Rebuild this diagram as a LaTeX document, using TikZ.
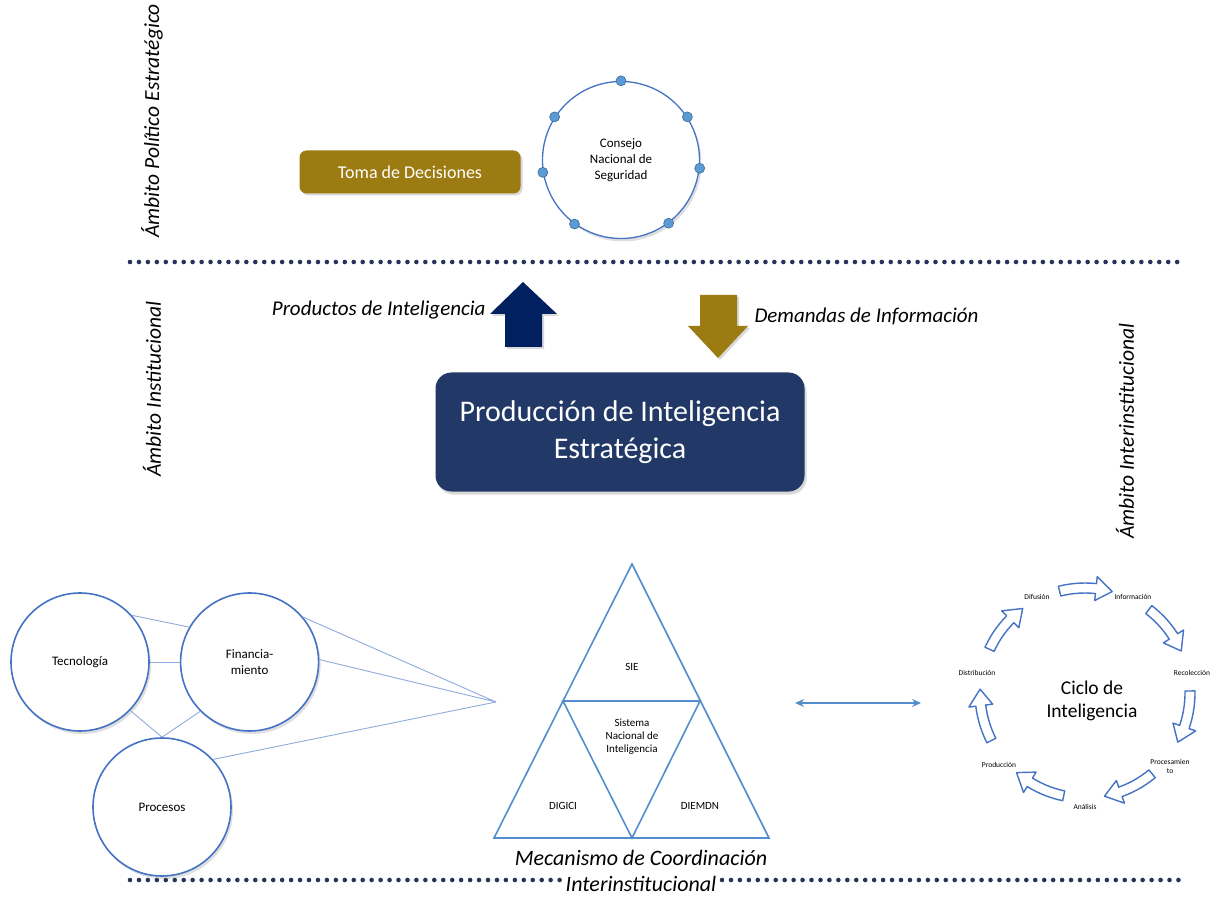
\documentclass[tikz,border=0pt]{standalone}
\usepackage{fontspec}
\setmainfont{Carlito}
\usepackage{xcolor}
\usetikzlibrary{arrows.meta}
\usetikzlibrary{positioning}
\usetikzlibrary{shadows}

\definecolor{navybox}{RGB}{34,56,102}
\definecolor{navyarrow}{RGB}{0,32,96}
\definecolor{gold}{RGB}{156,123,18}
\definecolor{ringblue}{RGB}{68,114,196}
\definecolor{triblue}{RGB}{84,141,204}
\definecolor{thinblue}{RGB}{143,170,220}
\definecolor{dotfill}{RGB}{91,155,213}
\definecolor{dotline}{RGB}{38,52,92}

% one block arrow of the cycle, #1 = middle angle
\newcommand{\cycarrow}[1]{%
  \pgfmathsetmacro{\aone}{#1+14}%
  \pgfmathsetmacro{\atwo}{#1-6}%
  \pgfmathsetmacro{\atip}{#1-15}%
  \draw[cyc] plot[domain=\aone:\atwo, samples=8] ({1085+110*cos(\x)},{693-110*sin(\x)})
    -- ({1085+117*cos(\atwo)},{693-117*sin(\atwo)})
    -- ({1085+105*cos(\atip)},{693-105*sin(\atip)})
    -- ({1085+93*cos(\atwo)},{693-93*sin(\atwo)})
    -- plot[domain=\atwo:\aone, samples=8] ({1085+100*cos(\x)},{693-100*sin(\x)})
    -- cycle;}

\begin{document}
\begin{tikzpicture}[x=1pt, y=-1pt]

\tikzstyle{every node} = [font=\fontsize{13}{16}\selectfont, align=center]
\tikzstyle{ring} = [circle, draw=ringblue, line width=1.6pt, fill=white, minimum size=138pt, drop shadow={opacity=0.25, shadow xshift=2pt, shadow yshift=-3pt}]
\tikzstyle{side} = [rotate=90, font=\fontsize{21.5}{25}\selectfont\itshape]
\tikzstyle{caption} = [font=\fontsize{21}{25}\selectfont\itshape]
\tikzstyle{tie} = [thinblue, line width=0.9pt]
\tikzstyle{tri} = [triblue, line width=1.6pt]
\tikzstyle{cyc} = [ringblue, fill=white, line width=1.4pt, line join=round]
\tikzstyle{phase} = [font=\fontsize{7.5}{9}\selectfont]
\tikzstyle{tick} = [fill=dotfill, draw=dotfill!70!black, line width=0.6pt]
\tikzstyle{rule} = [dotline, line width=4.6pt, line cap=round, dash pattern=on 0pt off 8.95pt]

\useasboundingbox (0,0) rectangle (1211,909);

\node[side] (a1) at (152,121) {Ámbito Político Estratégico};
\node[side] (a2) at (152,389) {Ámbito Institucional};
\node[side] (a3) at (1125,431) {Ámbito Interinstitucional};

\draw[rule] (130,262) -- (1183,262);
\draw[rule] (130,880) -- (560,880);
\draw[rule] (722,880) -- (1183,880);

\node[fill=gold, text=white, rounded corners=7pt, minimum width=221pt, minimum height=43pt, font=\fontsize{18}{22}\selectfont, drop shadow={opacity=0.3, shadow xshift=2pt, shadow yshift=-2pt}] (1) at (410,172) {Toma de Decisiones};
\node[ring, minimum size=157pt, line width=1.3pt] (2) at (621,160) {Consejo\\Nacional de\\Seguridad};
\foreach \a in {90,147,33,-6,189,234,-53}
  \filldraw[tick] (2.\a) circle[radius=5pt];

\fill[navyarrow, drop shadow={opacity=0.3, shadow xshift=2pt, shadow yshift=-2pt}] (523,282) -- (557,314) -- (542,314) -- (542,347) -- (505,347) -- (505,314) -- (490,314) -- cycle;
\fill[gold, drop shadow={opacity=0.3, shadow xshift=2pt, shadow yshift=-2pt}] (700,295) -- (737,295) -- (737,326) -- (748,326) -- (718,358) -- (688,326) -- (700,326) -- cycle;
\node[caption, anchor=east] (3) at (489,310) {Productos de Inteligencia};
\node[caption, anchor=west] (4) at (751,316) {Demandas de Información};

\node[fill=navybox, text=white, rounded corners=16pt, minimum width=369pt, minimum height=119pt, font=\fontsize{30}{37}\selectfont, drop shadow={opacity=0.3, shadow xshift=2pt, shadow yshift=-3pt}] (5) at (620,432) {Producción de Inteligencia\\Estratégica};

\node[ring] (6) at (80,662) {Tecnología};
\node[ring, right=30pt of 6] (7) {Financia-\\miento};
\node[ring] (8) at (162,807) {Procesos};

\coordinate (apex) at (496,702);
\draw[tie] (6.42) -- (7.150);
\draw[tie] (6.east) -- (7.west);
\draw[tie] (6.-44) -- (8.north);
\draw[tie] (7.-135) -- (8.north);
\draw[tie] (7.40) -- (apex) -- (7.2);
\draw[tie] (8.43) -- (apex);

\coordinate (t1) at (632,564);
\coordinate (t2) at (494,838);
\coordinate (t3) at (769,838);
\coordinate (m1) at (563,701);
\coordinate (m2) at (700,701);
\coordinate (m3) at (632,838);
\draw[tri] (t1) -- (t2) -- (t3) -- cycle;
\draw[tri] (m1) -- (m2) -- (m3) -- cycle;
\node[font=\fontsize{11}{13}\selectfont] (9) at (632,667) {SIE};
\node[font=\fontsize{11}{13}\selectfont] (10) at (632,737) {Sistema\\Nacional de\\Inteligencia};
\node[font=\fontsize{11}{13}\selectfont] (11) at (563,806) {DIGICI};
\node[font=\fontsize{11}{13}\selectfont] (12) at (700,806) {DIEMDN};
\node[caption, font=\fontsize{22}{26}\selectfont\itshape] (13) at (641,871) {Mecanismo de Coordinación\\Interinstitucional};

\coordinate (l1) at (795,703);
\coordinate (l2) at (921,703);
\draw[triblue, line width=1.3pt, {Stealth[length=9pt,width=8pt]}-{Stealth[length=9pt,width=8pt]}] (l1) -- (l2);

\node[font=\fontsize{19.5}{23}\selectfont] (20) at (1092,701) {Ciclo de\\Inteligencia};
\node[phase] (21) at (1037,597) {Difusión};
\node[phase] (22) at (1133,597) {Información};
\node[phase] (23) at (1192,673) {Recolección};
\node[phase] (24) at (1170,766) {Procesamien\\to};
\node[phase] (25) at (1085,807) {Análisis};
\node[phase] (26) at (999,765) {Producción};
\node[phase] (27) at (977,673) {Distribución};
\foreach \m in {90,38.6,-12.9,-64.3,-115.7,-167.1,141.4}
  \cycarrow{\m};

\end{tikzpicture}
\end{document}
